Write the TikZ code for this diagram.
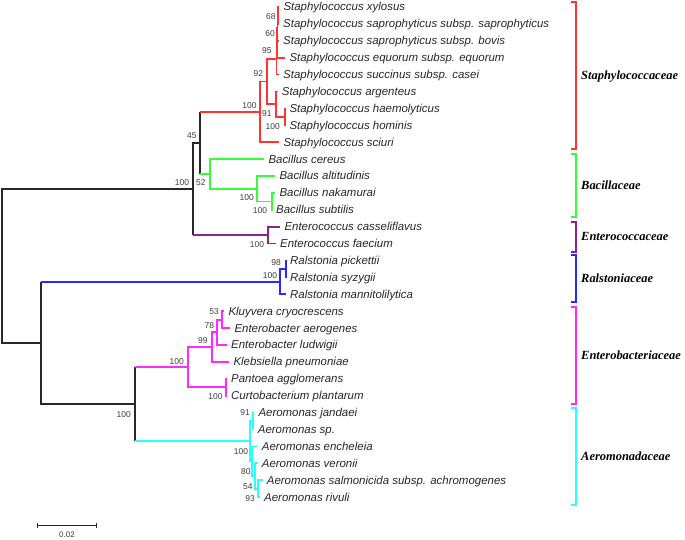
\documentclass[tikz,border=0pt]{standalone}
\usepackage{fontspec}
\setmainfont{Liberation Sans}
\newfontfamily\famserif{Liberation Serif}
\usetikzlibrary{positioning,arrows.meta,calc}
\definecolor{StaphRed}{RGB}{255,51,51}
\definecolor{BacGreen}{RGB}{51,255,51}
\definecolor{EntPurple}{RGB}{140,35,140}
\definecolor{RalBlue}{RGB}{40,40,255}
\definecolor{EnbMagenta}{RGB}{255,40,255}
\definecolor{AerCyan}{RGB}{40,255,255}
\definecolor{TreeGray}{RGB}{40,40,40}
\definecolor{BootGray}{RGB}{60,60,60}
\tikzset{
  blackline/.style={line width=1.7bp,draw=TreeGray},
  staphline/.style={line width=1.7bp,draw=StaphRed},
  bacline/.style={line width=1.7bp,draw=BacGreen},
  entline/.style={line width=1.7bp,draw=EntPurple},
  ralline/.style={line width=1.7bp,draw=RalBlue},
  enbline/.style={line width=1.7bp,draw=EnbMagenta},
  aerline/.style={line width=1.7bp,draw=AerCyan},
  leaf/.style={font=\fontsize{11.5}{13}\selectfont\itshape,text=black!85,
    inner sep=0pt,text height=8pt,text depth=0pt},
  boot/.style={font=\fontsize{8.5}{10}\selectfont,text=BootGray,
    inner sep=0pt,text height=6.1pt,text depth=0pt,anchor=east},
  family/.style={font=\famserif\fontsize{12.5}{14}\selectfont\bfseries\itshape,
    inner sep=0pt,text height=8.3pt,text depth=0pt,anchor=west},
  scalebar/.style={line width=1.3bp,draw=TreeGray,{Bar[width=5bp]}-{Bar[width=5bp]}}
}

\begin{document}
\begin{tikzpicture}[x=1bp,y=-1bp]
  \useasboundingbox (0,0) rectangle (685,540);

  % internal nodes
  \coordinate (root) at (1.7,266);
  \coordinate (nFir) at (192.7,189);
  \coordinate (n45) at (200,142.9);
  \coordinate (nSta) at (260,111.9);
  \coordinate (n92) at (266.7,81.5);
  \coordinate (nUp) at (276.5,58.8);
  \coordinate (n95) at (277,42.9);
  \coordinate (n60) at (277.4,28.1);
  \coordinate (n68) at (277.8,15.5);
  \coordinate (n91) at (276,104.2);
  \coordinate (nHH) at (285,116.9);
  \coordinate (n52) at (210,173.9);
  \coordinate (nAlt) at (256.7,188.7);
  \coordinate (nBB) at (271.7,201.4);
  \coordinate (nEnt) at (268.3,235.2);
  \coordinate (nProt) at (40.7,342.9);
  \coordinate (nRal) at (280,282.3);
  \coordinate (nRal1) at (285.7,269);
  \coordinate (nGam) at (135,404.2);
  \coordinate (nEb) at (188.3,367.2);
  \coordinate (n99) at (211.7,347.1);
  \coordinate (n78) at (217.3,332.3);
  \coordinate (n53) at (222.3,319.7);
  \coordinate (nPC) at (226,387.3);
  \coordinate (nAer) at (250,441.1);
  \coordinate (nJ) at (253.3,421.1);
  \coordinate (nB) at (251.7,461.2);
  \coordinate (nC) at (255,476);
  \coordinate (nD) at (258.3,488.7);

  % leaf tips
  \coordinate (tXyl) at (279.3,7);
  \coordinate (tSap) at (279,23.9);
  \coordinate (tBov) at (279,40.8);
  \coordinate (tEqu) at (285.3,57.7);
  \coordinate (tCas) at (279,74.6);
  \coordinate (tArg) at (277.7,91.5);
  \coordinate (tHae) at (285.3,108.4);
  \coordinate (tHom) at (285.3,125.3);
  \coordinate (tSci) at (279.3,142.2);
  \coordinate (tCer) at (264.3,159.1);
  \coordinate (tAlt) at (275.3,176);
  \coordinate (tNak) at (275.3,192.9);
  \coordinate (tSub) at (272,209.8);
  \coordinate (tCsf) at (280.3,226.7);
  \coordinate (tFae) at (276,243.6);
  \coordinate (tPic) at (286,260.5);
  \coordinate (tSyz) at (286,277.4);
  \coordinate (tMan) at (286,294.3);
  \coordinate (tKlu) at (224.3,311.2);
  \coordinate (tAeg) at (230.3,328.1);
  \coordinate (tLud) at (227,345);
  \coordinate (tKle) at (229.3,361.9);
  \coordinate (tPan) at (227,378.8);
  \coordinate (tCur) at (227,395.7);
  \coordinate (tJan) at (254.3,412.6);
  \coordinate (tSp) at (253.7,429.5);
  \coordinate (tEnc) at (257.7,446.4);
  \coordinate (tVer) at (257.7,463.3);
  \coordinate (tSal) at (262.7,480.2);
  \coordinate (tRiv) at (260,497.1);

  % backbone
  \draw[blackline] (root) |- (nFir);
  \draw[blackline] (root) |- (nProt);
  \draw[blackline] (nFir) |- (n45);
  \draw[blackline] (nFir) -- (nFir |- nEnt);
  \draw[blackline] (n45 |- nSta) -- (n45 |- n52);
  \draw[blackline] (nProt |- nRal) -- (nProt);
  \draw[blackline] (nProt) |- (nGam);
  \draw[blackline] (nGam |- nEb) -- (nGam |- nAer);

  % Staphylococcaceae
  \draw[staphline] (n45 |- nSta) -- (nSta);
  \draw[staphline] (nSta) |- (n92);
  \draw[staphline] (nSta) |- (tSci);
  \draw[staphline] (n92) |- (nUp);
  \draw[staphline] (n92) |- (n91);
  \draw[staphline] (nUp) |- (n95);
  \draw[staphline] (nUp) |- (tCas);
  \draw[staphline] (n95) |- (n60);
  \draw[staphline] (n95) |- (tEqu);
  \draw[staphline] (n60) |- (n68);
  \draw[staphline] (n60) |- (tBov);
  \draw[staphline] (n68) |- (tXyl);
  \draw[staphline] (n68) |- (tSap);
  \draw[staphline] (n91) |- (tArg);
  \draw[staphline] (n91) |- (nHH);
  \draw[staphline] (nHH) |- (tHae);
  \draw[staphline] (nHH) |- (tHom);

  % Bacillaceae
  \draw[bacline] (n45 |- n52) -- (n52);
  \draw[bacline] (n52) |- (tCer);
  \draw[bacline] (n52) |- (nAlt);
  \draw[bacline] (nAlt) |- (tAlt);
  \draw[bacline] (nAlt) |- (nBB);
  \draw[bacline] (nBB) |- (tNak);
  \draw[bacline] (nBB) |- (tSub);

  % Enterococcaceae
  \draw[entline] (nFir |- nEnt) -- (nEnt);
  \draw[entline] (nEnt) |- (tCsf);
  \draw[entline] (nEnt) |- (tFae);

  % Ralstoniaceae
  \draw[ralline] (nProt |- nRal) -- (nRal);
  \draw[ralline] (nRal) |- (nRal1);
  \draw[ralline] (nRal) |- (tMan);
  \draw[ralline] (nRal1) |- (tPic);
  \draw[ralline] (nRal1) |- (tSyz);

  % Enterobacteriaceae
  \draw[enbline] (nGam |- nEb) -- (nEb);
  \draw[enbline] (nEb) |- (n99);
  \draw[enbline] (nEb) |- (nPC);
  \draw[enbline] (n99) |- (n78);
  \draw[enbline] (n99) |- (tKle);
  \draw[enbline] (n78) |- (n53);
  \draw[enbline] (n78) |- (tLud);
  \draw[enbline] (n53) |- (tKlu);
  \draw[enbline] (n53) |- (tAeg);
  \draw[enbline] (nPC) |- (tPan);
  \draw[enbline] (nPC) |- (tCur);

  % Aeromonadaceae
  \draw[aerline] (nGam |- nAer) -- (nAer);
  \draw[aerline] (nAer) |- (nJ);
  \draw[aerline] (nAer) |- (nB);
  \draw[aerline] (nJ) |- (tJan);
  \draw[aerline] (nJ) |- (tSp);
  \draw[aerline] (nB) |- (tEnc);
  \draw[aerline] (nB) |- (nC);
  \draw[aerline] (nC) |- (tVer);
  \draw[aerline] (nC) |- (nD);
  \draw[aerline] (nD) |- (tSal);
  \draw[aerline] (nD) |- (tRiv);

  % leaf names
  \node[leaf,right=4bp of tXyl] (lXyl) {Staphylococcus xylosus};
  \node[leaf,right=4bp of tSap] (lSap) {Staphylococcus saprophyticus subsp. saprophyticus};
  \node[leaf,right=4bp of tBov] (lBov) {Staphylococcus saprophyticus subsp. bovis};
  \node[leaf,right=4bp of tEqu] (lEqu) {Staphylococcus equorum subsp. equorum};
  \node[leaf,right=4bp of tCas] (lCas) {Staphylococcus succinus subsp. casei};
  \node[leaf,right=4bp of tArg] (lArg) {Staphylococcus argenteus};
  \node[leaf,right=4bp of tHae] (lHae) {Staphylococcus haemolyticus};
  \node[leaf,right=4bp of tHom] (lHom) {Staphylococcus hominis};
  \node[leaf,right=4bp of tSci] (lSci) {Staphylococcus sciuri};
  \node[leaf,right=4bp of tCer] (lCer) {Bacillus cereus};
  \node[leaf,right=4bp of tAlt] (lAlt) {Bacillus altitudinis};
  \node[leaf,right=4bp of tNak] (lNak) {Bacillus nakamurai};
  \node[leaf,right=4bp of tSub] (lSub) {Bacillus subtilis};
  \node[leaf,right=4bp of tCsf] (lCsf) {Enterococcus casseliflavus};
  \node[leaf,right=4bp of tFae] (lFae) {Enterococcus faecium};
  \node[leaf,right=4bp of tPic] (lPic) {Ralstonia pickettii};
  \node[leaf,right=4bp of tSyz] (lSyz) {Ralstonia syzygii};
  \node[leaf,right=4bp of tMan] (lMan) {Ralstonia mannitolilytica};
  \node[leaf,right=4bp of tKlu] (lKlu) {Kluyvera cryocrescens};
  \node[leaf,right=4bp of tAeg] (lAeg) {Enterobacter aerogenes};
  \node[leaf,right=4bp of tLud] (lLud) {Enterobacter ludwigii};
  \node[leaf,right=4bp of tKle] (lKle) {Klebsiella pneumoniae};
  \node[leaf,right=4bp of tPan] (lPan) {Pantoea agglomerans};
  \node[leaf,right=4bp of tCur] (lCur) {Curtobacterium plantarum};
  \node[leaf,right=4bp of tJan] (lJan) {Aeromonas jandaei};
  \node[leaf,right=4bp of tSp] (lSp) {Aeromonas sp.};
  \node[leaf,right=4bp of tEnc] (lEnc) {Aeromonas encheleia};
  \node[leaf,right=4bp of tVer] (lVer) {Aeromonas veronii};
  \node[leaf,right=4bp of tSal] (lSal) {Aeromonas salmonicida subsp. achromogenes};
  \node[leaf,right=4bp of tRiv] (lRiv) {Aeromonas rivuli};

  % bootstrap values
  \node[boot] (b68) at (275.7,16.7) {68};
  \node[boot] (b60) at (275,33.3) {60};
  \node[boot] (b95) at (271.7,50) {95};
  \node[boot] (b92) at (263.3,73.3) {92};
  \node[boot] (bSta) at (256.7,105) {100};
  \node[boot] (b91) at (271.7,113.3) {91};
  \node[boot] (bHH) at (280,126) {100};
  \node[boot] (b45) at (196.7,135) {45};
  \node[boot] (bFir) at (189.3,182.7) {100};
  \node[boot] (b52) at (205.7,182.7) {52};
  \node[boot] (bAlt) at (254,197.7) {100};
  \node[boot] (bBB) at (267.3,210) {100};
  \node[boot] (bEnt) at (264.3,244.3) {100};
  \node[boot] (bRal1) at (281,262.3) {98};
  \node[boot] (bRal) at (277.3,275) {100};
  \node[boot] (b53) at (219,311.7) {53};
  \node[boot] (b78) at (214.3,325.7) {78};
  \node[boot] (b99) at (207.7,340.7) {99};
  \node[boot] (bEb) at (184,361.7) {100};
  \node[boot] (bPC) at (222.7,396.7) {100};
  \node[boot] (bGam) at (131,414) {100};
  \node[boot] (bJ) at (250,412.3) {91};
  \node[boot] (bAer) at (248.3,451) {100};
  \node[boot] (bB) at (250.7,471.7) {80};
  \node[boot] (bC) at (252.7,486) {54};
  \node[boot] (bD) at (255,498.3) {93};

  % family brackets
  \coordinate (fStaT) at (576,1.7);   \coordinate (fStaB) at (576,149);
  \coordinate (fBacT) at (576,154);   \coordinate (fBacB) at (576,217.3);
  \coordinate (fEntT) at (576,221.7); \coordinate (fEntB) at (576,251.7);
  \coordinate (fRalT) at (576,255);   \coordinate (fRalB) at (576,301.7);
  \coordinate (fEnbT) at (576,306.7); \coordinate (fEnbB) at (576,404);
  \coordinate (fAerT) at (576,408.3); \coordinate (fAerB) at (576,505);
  \draw[staphline] ([xshift=-5.3bp]fStaT) -- (fStaT) -- (fStaB) -- ([xshift=-5.3bp]fStaB);
  \draw[bacline] ([xshift=-5.3bp]fBacT) -- (fBacT) -- (fBacB) -- ([xshift=-5.3bp]fBacB);
  \draw[entline] ([xshift=-5.3bp]fEntT) -- (fEntT) -- (fEntB) -- ([xshift=-5.3bp]fEntB);
  \draw[ralline] ([xshift=-5.3bp]fRalT) -- (fRalT) -- (fRalB) -- ([xshift=-5.3bp]fRalB);
  \draw[enbline] ([xshift=-5.3bp]fEnbT) -- (fEnbT) -- (fEnbB) -- ([xshift=-5.3bp]fEnbB);
  \draw[aerline] ([xshift=-5.3bp]fAerT) -- (fAerT) -- (fAerB) -- ([xshift=-5.3bp]fAerB);
  \node[family] (lbSta) at ($(fStaT)!0.5!(fStaB)+(5,0)$) {Staphylococcaceae};
  \node[family] (lbBac) at ($(fBacT)!0.5!(fBacB)+(5,0)$) {Bacillaceae};
  \node[family] (lbEnt) at ($(fEntT)!0.5!(fEntB)+(5,0)$) {Enterococcaceae};
  \node[family] (lbRal) at ($(fRalT)!0.5!(fRalB)+(5,0)$) {Ralstoniaceae};
  \node[family] (lbEnb) at ($(fEnbT)!0.5!(fEnbB)+(5,0)$) {Enterobacteriaceae};
  \node[family] (lbAer) at ($(fAerT)!0.5!(fAerB)+(5,0)$) {Aeromonadaceae};

  % scale bar
  \coordinate (sbL) at (36.7,525.7);
  \coordinate (sbR) at (97.3,525.7);
  \draw[scalebar] (sbL) -- (sbR);
  \node[font=\fontsize{8}{9}\selectfont,text=BootGray,inner sep=0pt,text height=5.7pt,text depth=0pt,
    below=5.7bp of $(sbL)!0.5!(sbR)$] (sbText) {0.02};
\end{tikzpicture}
\end{document}
